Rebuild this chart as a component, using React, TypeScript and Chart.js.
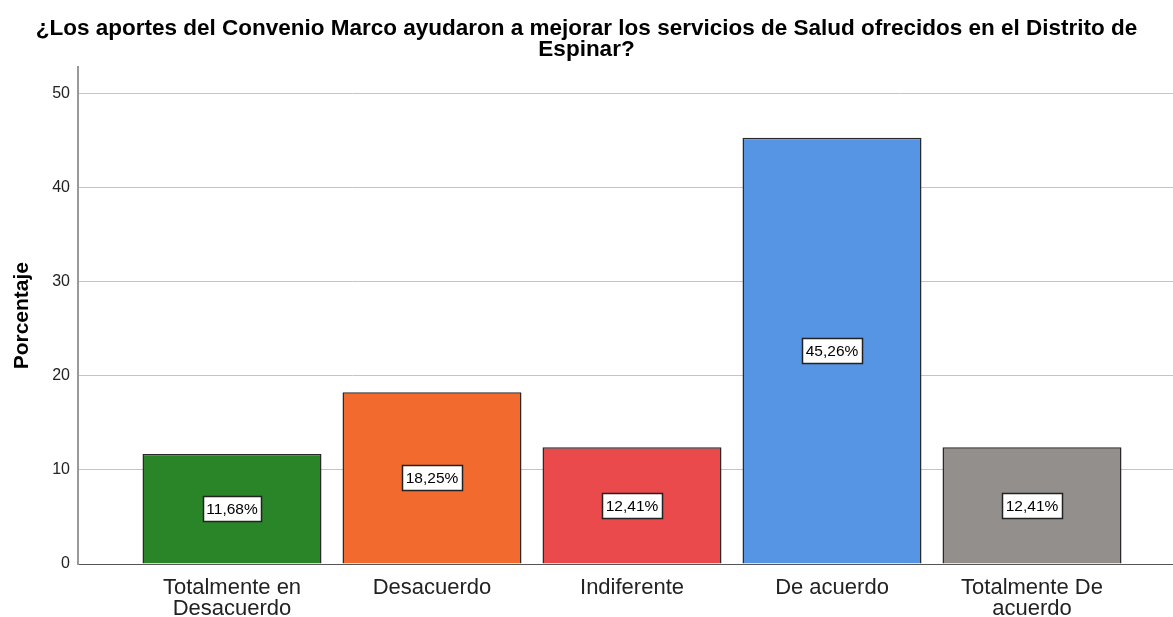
import React, { useEffect, useRef } from "react";
import { Chart, registerables } from "chart.js";

Chart.register(...registerables);

const titleLines = [
  "¿Los aportes del Convenio Marco ayudaron a mejorar los servicios de Salud ofrecidos en el Distrito de",
  "Espinar?",
];
const categories = [
  ["Totalmente en", "Desacuerdo"],
  ["Desacuerdo"],
  ["Indiferente"],
  ["De acuerdo"],
  ["Totalmente De", "acuerdo"],
];
const values = [11.68, 18.25, 12.41, 45.26, 12.41];
const barColors = ["#2a8529", "#f26a2d", "#ea4a4c", "#5595e3", "#938f8d"];
const yTicks = [0, 10, 20, 30, 40, 50];
const yTitle = "Porcentaje";

const FONT = "'Liberation Sans', Arial, sans-serif";

const labelPlugin = {
  id: "barLabels",
  afterDatasetsDraw(chart: any) {
    const ctx = chart.ctx;
    const meta = chart.getDatasetMeta(0);
    ctx.save();
    ctx.font = `15.5px ${FONT}`;
    ctx.textAlign = "center";
    ctx.textBaseline = "middle";
    meta.data.forEach((el: any, i: number) => {
      const txt = values[i].toFixed(2).replace(".", ",") + "%";
      const mid = (el.y + el.base) / 2;
      const w = Math.round(ctx.measureText(txt).width + 7);
      const h = 25;
      const x0 = Math.round(el.x - w / 2) + 0.5;
      const y0 = Math.round(mid - h / 2) + 0.5;
      ctx.fillStyle = "#ffffff";
      ctx.fillRect(x0, y0, w, h);
      ctx.strokeStyle = "#222";
      ctx.lineWidth = 1.5;
      ctx.strokeRect(x0, y0, w, h);
      ctx.fillStyle = "#000";
      ctx.fillText(txt, el.x, mid + 1);
    });
    ctx.restore();
  },
};

export default function App() {
  const ref = useRef<HTMLCanvasElement>(null);
  useEffect(() => {
    if (!ref.current) return;
    const chart = new Chart(ref.current, {
      type: "bar",
      data: {
        datasets: [
          {
            data: values.map((v, i) => ({ x: i, y: v })),
            backgroundColor: barColors,
            borderColor: "#2a2a2a",
            borderWidth: 1.5,
            categoryPercentage: 1,
            barPercentage: 0.895,
          } as any,
        ],
      },
      options: {
        responsive: false,
        animation: false,
        layout: { padding: { left: 0, right: 0, top: 0, bottom: 0 } },
        plugins: {
          legend: { display: false },
          tooltip: { enabled: false },
          title: {
            display: true,
            text: titleLines,
            color: "#000",
            font: { family: FONT, size: 22.5, weight: "bold", lineHeight: 0.94 },
            padding: { top: 18, bottom: 7 },
          },
        },
        scales: {
          x: {
            type: "linear",
            offset: false,
            min: -0.77,
            max: 4.705,
            afterBuildTicks: (s: any) => {
              s.ticks = categories.map((_, i) => ({ value: i }));
            },
            afterFit: (s: any) => {
              s.height = 53;
            },
            grid: { display: false, drawTicks: false, offset: false },
            border: { display: true, color: "#555", width: 1 },
            ticks: {
              autoSkip: false,
              maxRotation: 0,
              padding: 14,
              color: "#222",
              font: { family: FONT, size: 22, lineHeight: 0.93 },
              callback: (v: any) => categories[Math.round(v)] ?? "",
            },
          },
          y: {
            min: 0,
            max: 52.75,
            afterBuildTicks: (s: any) => {
              s.ticks = yTicks.map((v) => ({ value: v }));
            },
            afterFit: (s: any) => {
              s.width = 78;
            },
            grid: { color: "#c4c4c4", lineWidth: 1, drawTicks: false },
            border: { display: true, color: "#999", width: 2 },
            ticks: {
              padding: 8,
              color: "#222",
              font: { family: FONT, size: 16 },
            },
            title: {
              display: true,
              text: yTitle,
              color: "#000",
              font: { family: FONT, size: 21, weight: "bold" },
              padding: { top: 10, bottom: 0 },
            },
          },
        },
      } as any,
      plugins: [labelPlugin],
    });
    return () => chart.destroy();
  }, []);
  return (
    <canvas
      ref={ref}
      width={1173}
      height={617}
      style={{ position: "fixed", left: 0, top: 0, width: 1173, height: 617, background: "#fff" }}
    />
  );
}
